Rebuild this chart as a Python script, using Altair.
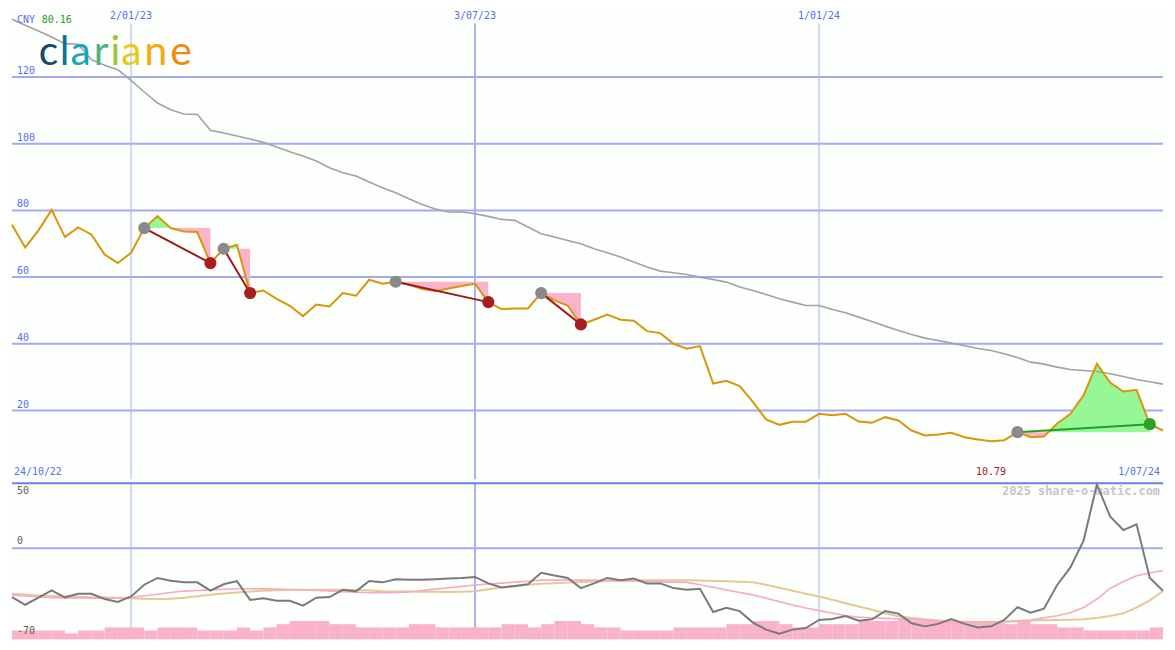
import altair as alt
import pandas as pd

# ---------------- data (weekly, index 0 = 24/10/22, 87 = 1/07/24) ----------------
idx = list(range(88))

price = [75.7, 68.9, 74.0, 80.16, 72.0, 74.9, 72.8, 66.8, 64.2, 67.3,
         74.7, 78.3, 74.7, 73.7, 73.5, 64.2, 68.5, 69.7, 55.2, 56.0,
         53.5, 51.4, 48.3, 51.8, 51.2, 55.2, 54.4, 59.2, 58.0, 58.6,
         57.8, 56.4, 55.8, 56.6, 57.3, 58.0, 52.5, 50.4, 50.6, 50.6,
         55.2, 53.0, 51.5, 45.8, 47.2, 48.8, 47.2, 46.9, 43.8, 43.2,
         40.0, 38.5, 39.3, 28.1, 28.9, 27.3, 22.6, 17.3, 15.7, 16.6,
         16.6, 19.0, 18.6, 19.0, 16.7, 16.3, 18.0, 17.0, 14.0, 12.5,
         12.8, 13.3, 12.0, 11.3, 10.79, 11.1, 13.5, 12.0, 12.2, 16.1,
         19.0, 24.6, 34.0, 28.4, 25.7, 26.2, 15.9, 14.0]

moving_avg = [137.3, 135.5, 133.8, 132.0, 130.0, 129.8, 125.2, 123.5, 122.2, 119.0,
              115.5, 112.2, 110.2, 108.9, 108.8, 104.0, 103.2, 102.3, 101.4, 100.4,
              99.0, 97.6, 96.3, 94.8, 92.8, 91.3, 90.3, 88.5, 86.8, 85.3,
              83.5, 81.8, 80.4, 79.5, 79.5, 79.0, 78.2, 77.3, 77.0, 75.0,
              73.0, 72.0, 71.0, 70.0, 68.5, 67.3, 66.0, 64.5, 63.0, 61.8,
              61.3, 60.8, 60.0, 59.3, 58.5, 57.0, 56.0, 54.8, 53.5, 52.5,
              51.5, 51.5, 50.3, 49.3, 48.0, 46.7, 45.3, 44.0, 42.8, 41.7,
              41.0, 40.2, 39.4, 38.6, 38.0, 37.0, 35.9, 34.5, 33.9, 33.0,
              32.3, 32.0, 31.7, 31.0, 30.2, 29.3, 28.6, 27.9]

osc = [-37.5, -43.4, -37.9, -32.4, -37.7, -35.0, -35.0, -39.0, -41.2, -37.0,
       -28.0, -22.8, -25.0, -26.2, -26.2, -32.6, -27.7, -25.2, -39.7, -38.5,
       -40.4, -40.4, -44.1, -38.0, -37.5, -31.9, -33.1, -25.2, -26.2, -23.8,
       -24.2, -24.2, -23.8, -23.2, -22.8, -22.0, -27.0, -30.1, -29.0, -27.7,
       -18.9, -21.0, -22.8, -30.6, -27.0, -22.8, -24.5, -23.3, -27.0, -27.0,
       -30.6, -31.9, -31.1, -49.0, -45.8, -48.3, -57.1, -62.5, -65.7, -62.5,
       -61.3, -55.1, -54.4, -52.0, -55.7, -54.6, -48.3, -50.2, -57.6, -60.0,
       -58.1, -54.4, -58.1, -60.8, -60.0, -55.1, -45.3, -49.5, -46.5, -28.2,
       -14.7, 6.1, 49.0, 24.5, 14.0, 18.4, -22.8, -32.6]

osc_fast = [-36.0, -36.7, -37.4, -38.0, -38.1, -38.2, -38.3, -38.4, -38.3, -37.8,
            -36.5, -35.3, -34.0, -32.9, -32.5, -32.0, -31.5, -31.1, -31.1, -31.2,
            -31.3, -31.7, -32.1, -32.4, -32.8, -33.3, -33.8, -34.2, -34.2, -34.0,
            -33.6, -32.5, -31.4, -30.3, -29.3, -28.2, -27.5, -26.8, -26.0, -25.3,
            -24.5, -24.5, -24.5, -24.5, -24.5, -24.6, -24.9, -25.2, -25.5, -25.8,
            -26.0, -26.2, -28.0, -30.0, -32.0, -34.0, -35.8, -38.4, -41.0, -43.6,
            -45.9, -47.9, -49.8, -51.8, -52.9, -53.4, -53.9, -54.4, -54.8, -55.2,
            -55.7, -56.1, -56.4, -56.4, -56.4, -56.3, -55.7, -55.1, -53.5, -51.8,
            -49.5, -45.6, -39.0, -30.9, -25.5, -21.1, -19.0, -17.1]

osc_slow = [-35.0, -35.6, -36.2, -36.7, -37.0, -37.3, -37.6, -37.9, -38.1, -38.4,
            -38.7, -39.0, -38.8, -38.0, -36.9, -35.8, -34.7, -33.9, -33.2, -32.7,
            -32.2, -31.9, -31.9, -31.9, -31.9, -31.9, -32.1, -32.5, -33.0, -33.2,
            -33.3, -33.4, -33.5, -33.6, -33.4, -33.1, -31.5, -30.1, -29.2, -28.1,
            -27.2, -26.8, -26.4, -26.0, -25.5, -25.2, -25.0, -24.8, -24.6, -24.5,
            -24.5, -24.5, -24.8, -25.1, -25.4, -25.8, -26.1, -28.0, -30.3, -32.6,
            -34.9, -37.0, -39.6, -42.2, -44.8, -47.3, -49.9, -52.2, -53.6, -54.6,
            -55.5, -56.2, -56.5, -56.8, -57.0, -56.6, -56.0, -55.5, -55.3, -55.2,
            -55.0, -54.6, -53.5, -52.0, -50.0, -45.5, -40.0, -32.8]

volume = [-63.2, -63.2, -63.2, -63.2, -65.4, -63.2, -63.2, -60.8, -60.8, -60.8,
          -63.2, -60.8, -60.8, -60.8, -63.2, -63.2, -63.2, -60.8, -63.2, -60.8,
          -58.3, -55.9, -55.9, -55.9, -58.3, -58.3, -60.8, -60.8, -60.8, -60.8,
          -58.3, -58.3, -60.8, -60.8, -60.8, -60.8, -60.8, -58.3, -58.3, -60.8,
          -58.3, -55.9, -55.9, -58.3, -60.8, -60.8, -63.2, -63.2, -63.2, -63.2,
          -60.8, -60.8, -60.8, -60.8, -58.3, -58.3, -55.9, -55.9, -58.3, -60.8,
          -60.8, -58.3, -58.3, -58.3, -55.9, -55.9, -55.9, -53.7, -55.9, -55.9,
          -55.9, -55.9, -55.9, -55.9, -55.9, -58.3, -55.9, -58.3, -58.3, -60.8,
          -60.8, -63.2, -63.2, -63.2, -63.2, -63.2, -60.8]

entry_idx = [10, 16, 29, 40, 76]
exit_idx = [15, 18, 36, 43, 86]

tick_idx = [9, 35, 61]
tick_lbl = ["2/01/23", "3/07/23", "1/01/24"]
price_grid = [20, 40, 60, 80, 100, 120]
start_lbl = "24/10/22"
end_lbl = "1/07/24"
currency = "CNY"
osc_lbls = ["50", "0", "-70"]

logo_letters = list("clariane")
logo_colors = ["#17476a", "#0e7390", "#17a5ba", "#4db38a",
               "#9cc63a", "#e5cb16", "#f6aa0c", "#f08a10"]

# ---------------- layout / style ----------------
W, HT, HB = 1157, 472, 157
FONT = "DejaVu Sans Mono"
BLUE = "#5b6cf0"
GRID = "#a3aaf2"
BG = "#fcfffc"
LOGO_SIZE = 41
LOGO_SPREAD = 46
# approximate Lato advance widths (em) used only to place the logo letters
LATO_ADV = {"c": 0.455, "l": 0.235, "a": 0.51, "r": 0.365, "i": 0.235,
            "n": 0.56, "e": 0.53}

xs = alt.Scale(domain=[0, 87], nice=False, zero=False)
ys_top = alt.Scale(domain=[-0.6, 140.2], nice=False, zero=False)
ys_bot = alt.Scale(domain=[-70, 50], nice=False, zero=False)

def X(f="i"):
    return alt.X(f"{f}:Q", scale=xs, axis=None)

def YT(f):
    return alt.Y(f"{f}:Q", scale=ys_top, axis=None)

def YB(f):
    return alt.Y(f"{f}:Q", scale=ys_bot, axis=None)

df = pd.DataFrame({"i": idx, "price": price, "ma": moving_avg, "osc": osc,
                   "fast": osc_fast, "slow": osc_slow})
bars = pd.DataFrame({"i": idx[:-1], "i2": [k + 1 for k in idx[:-1]], "vol": volume})
ticks = pd.DataFrame({"i": tick_idx, "lbl": tick_lbl})
pgrid = pd.DataFrame({"v": price_grid, "lbl": [str(v) for v in price_grid]})

seg_rows, pt_rows, fill_rows = [], [], []
for t, (a, b) in enumerate(zip(entry_idx, exit_idx)):
    pa, pb = price[a], price[b]
    res = "gain" if pb > pa else "loss"
    seg_rows += [{"trade": t, "i": a, "p": pa, "res": res},
                 {"trade": t, "i": b, "p": pb, "res": res}]
    pt_rows += [{"i": a, "p": pa, "kind": "entry"}, {"i": b, "p": pb, "kind": res}]
    lvl = pa
    pts = []
    for k in range(a, b + 1):
        pts.append((k, price[k]))
        if k < b:
            p0, p1 = price[k], price[k + 1]
            if (p0 - lvl) * (p1 - lvl) < 0:
                pts.append((k + (lvl - p0) / (p1 - p0), lvl))
    for xx, pp in pts:
        fill_rows.append({"trade": t, "i": xx, "hi": max(pp, lvl),
                          "lo": min(pp, lvl), "lvl": lvl})
segs = pd.DataFrame(seg_rows)
pts_df = pd.DataFrame(pt_rows)
fills = pd.DataFrame(fill_rows)

pmin = min(price)
pmax = max(price)
imin = price.index(pmin)

# logo letters with offsets from advance widths
off, logo_rows = 0.0, []
for ch, col in zip(logo_letters, logo_colors):
    logo_rows.append({"ch": ch, "col": col, "px": 27 + off})
    off += LATO_ADV[ch] * LOGO_SPREAD
logo_df = pd.DataFrame(logo_rows)

one = pd.DataFrame([{"k": 0}])

# ---------------- top panel ----------------
hgrid = alt.Chart(pgrid).mark_rule(color=GRID, strokeWidth=2).encode(y=YT("v"))
hgrid_lbl = alt.Chart(pgrid).mark_text(font=FONT, fontSize=10, color=BLUE,
                                       align="left", baseline="bottom", dy=-1).encode(
    x=alt.value(5), y=YT("v"), text="lbl:N")

vrules_top = alt.Chart(ticks).mark_rule(color="#a8b2f4").encode(
    x=X(), y=alt.value(14), y2=alt.value(HT),
    strokeWidth=alt.condition("datum.lbl == '3/07/23'", alt.value(2), alt.value(1)),
)
tick_text = alt.Chart(ticks).mark_text(font=FONT, fontSize=10, color=BLUE,
                                       baseline="middle", align="center").encode(
    x=X(), y=alt.value(6), text="lbl:N")

green_fill = alt.Chart(fills).mark_area(color="#97f797", opacity=1).encode(
    x=X(), y=YT("hi"), y2="lvl:Q", detail="trade:N")
pink_fill = alt.Chart(fills).mark_area(color="#f9b4c9", opacity=1).encode(
    x=X(), y=YT("lo"), y2="lvl:Q", detail="trade:N")

ma_line = alt.Chart(df).mark_line(color="#a2a2a2", strokeWidth=1.6).encode(
    x=X(), y=YT("ma"))
price_line = alt.Chart(df).mark_line(color="#d9960a", strokeWidth=2).encode(
    x=X(), y=YT("price"))

trade_lines = alt.Chart(segs).mark_line(strokeWidth=2).encode(
    x=X(), y=YT("p"), detail="trade:N",
    color=alt.Color("res:N", scale=alt.Scale(domain=["loss", "gain"],
                                             range=["#9e1a1a", "#23a023"]), legend=None))
trade_pts = alt.Chart(pts_df).mark_circle(size=150, opacity=1).encode(
    x=X(), y=YT("p"),
    fill=alt.Fill("kind:N", scale=alt.Scale(domain=["entry", "loss", "gain"],
                                            range=["#8a8a8a", "#a61e1e", "#2ba02b"]),
                  legend=None))

lbl_df = pd.DataFrame([{"cur": currency, "hi": f"{pmax:.2f}", "lo": f"{pmin:.2f}",
                        "start": start_lbl, "end": end_lbl, "imin": imin}])
cur_text = alt.Chart(lbl_df).mark_text(font=FONT, fontSize=10, color=BLUE,
                                       align="left", baseline="middle").encode(
    x=alt.value(5), y=alt.value(10), text="cur:N")
hi_text = alt.Chart(lbl_df).mark_text(font=FONT, fontSize=10, color="#22a022",
                                      align="left", baseline="middle").encode(
    x=alt.value(30), y=alt.value(10), text="hi:N")
start_text = alt.Chart(lbl_df).mark_text(font=FONT, fontSize=10, color=BLUE,
                                         align="left", baseline="bottom").encode(
    x=alt.value(2), y=alt.value(HT - 2), text="start:N")
end_text = alt.Chart(lbl_df).mark_text(font=FONT, fontSize=10, color=BLUE,
                                       align="right", baseline="bottom").encode(
    x=alt.value(W - 3), y=alt.value(HT - 2), text="end:N")
lo_text = alt.Chart(lbl_df).mark_text(font=FONT, fontSize=10, color="#a01818",
                                      align="center", baseline="bottom").encode(
    x=X("imin"), y=alt.value(HT - 2), text="lo:N")

logo = alt.Chart(logo_df).mark_text(
    font="Lato", fontSize=LOGO_SIZE, align="left", baseline="alphabetic").encode(
    x=alt.X("px:Q", scale=None, axis=None), y=alt.value(56), text="ch:N",
    color=alt.Color("col:N", scale=None, legend=None))

top = alt.layer(hgrid, vrules_top, hgrid_lbl, tick_text, green_fill, pink_fill,
                ma_line, price_line, trade_lines, trade_pts, logo, cur_text, hi_text,
                start_text, end_text, lo_text).properties(width=W, height=HT)

# ---------------- bottom panel ----------------
zero_df = pd.DataFrame([{"v": 0, "lbl": osc_lbls[1]}])
zero_line = alt.Chart(zero_df).mark_rule(color=GRID, strokeWidth=2).encode(
    y=YB("v"))
vrules_bot = alt.Chart(ticks).mark_rule(color="#a8b2f4").encode(
    x=X(), y=alt.value(0), y2=alt.value(HB),
    strokeWidth=alt.condition("datum.lbl == '3/07/23'", alt.value(2), alt.value(1)))
vol_bars = alt.Chart(bars).mark_rect(color="#f9b3c8").encode(
    x=X(), x2="i2:Q", y=YB("vol"), y2=alt.value(HB))
slow_line = alt.Chart(df).mark_line(color="#e3c99a", strokeWidth=2).encode(
    x=X(), y=YB("slow"))
fast_line = alt.Chart(df).mark_line(color="#f8a9c4", strokeWidth=1.6).encode(
    x=X(), y=YB("fast"))
osc_line = alt.Chart(df).mark_line(color="#7a7a7a", strokeWidth=2).encode(
    x=X(), y=YB("osc"))
divider = alt.Chart(one).mark_rule(color="#6e7ee9", strokeWidth=2).encode(
    y=alt.value(0))

blabels = pd.DataFrame([{"top": osc_lbls[0], "bot": osc_lbls[2],
                         "credit": "2025 share-o-matic.com"}])
l50 = alt.Chart(blabels).mark_text(font=FONT, fontSize=10, color="#606060",
                                   align="left", baseline="top").encode(
    x=alt.value(5), y=alt.value(3), text="top:N")
l0 = alt.Chart(zero_df).mark_text(font=FONT, fontSize=10, color="#606060",
                                  align="left", baseline="bottom", dy=-2).encode(
    x=alt.value(5), y=YB("v"), text="lbl:N")
l70 = alt.Chart(blabels).mark_text(font=FONT, fontSize=10, color="#606060",
                                   align="left", baseline="bottom").encode(
    x=alt.value(5), y=alt.value(HB - 3), text="bot:N")
credit = alt.Chart(blabels).mark_text(font=FONT, fontSize=12, fontWeight="bold",
                                      color="#c6c6c6", align="right",
                                      baseline="top").encode(
    x=alt.value(W - 3), y=alt.value(3), text="credit:N")

bottom = alt.layer(zero_line, vrules_bot, vol_bars, credit, slow_line, fast_line,
                   osc_line, divider, l50, l0, l70).properties(width=W, height=HB)

chart = alt.vconcat(top, bottom, spacing=0).properties(
    padding=0, background=BG
).configure_view(stroke=None).configure_concat(spacing=0)

chart.save("out.html", embed_options={"renderer": "svg", "actions": False})
